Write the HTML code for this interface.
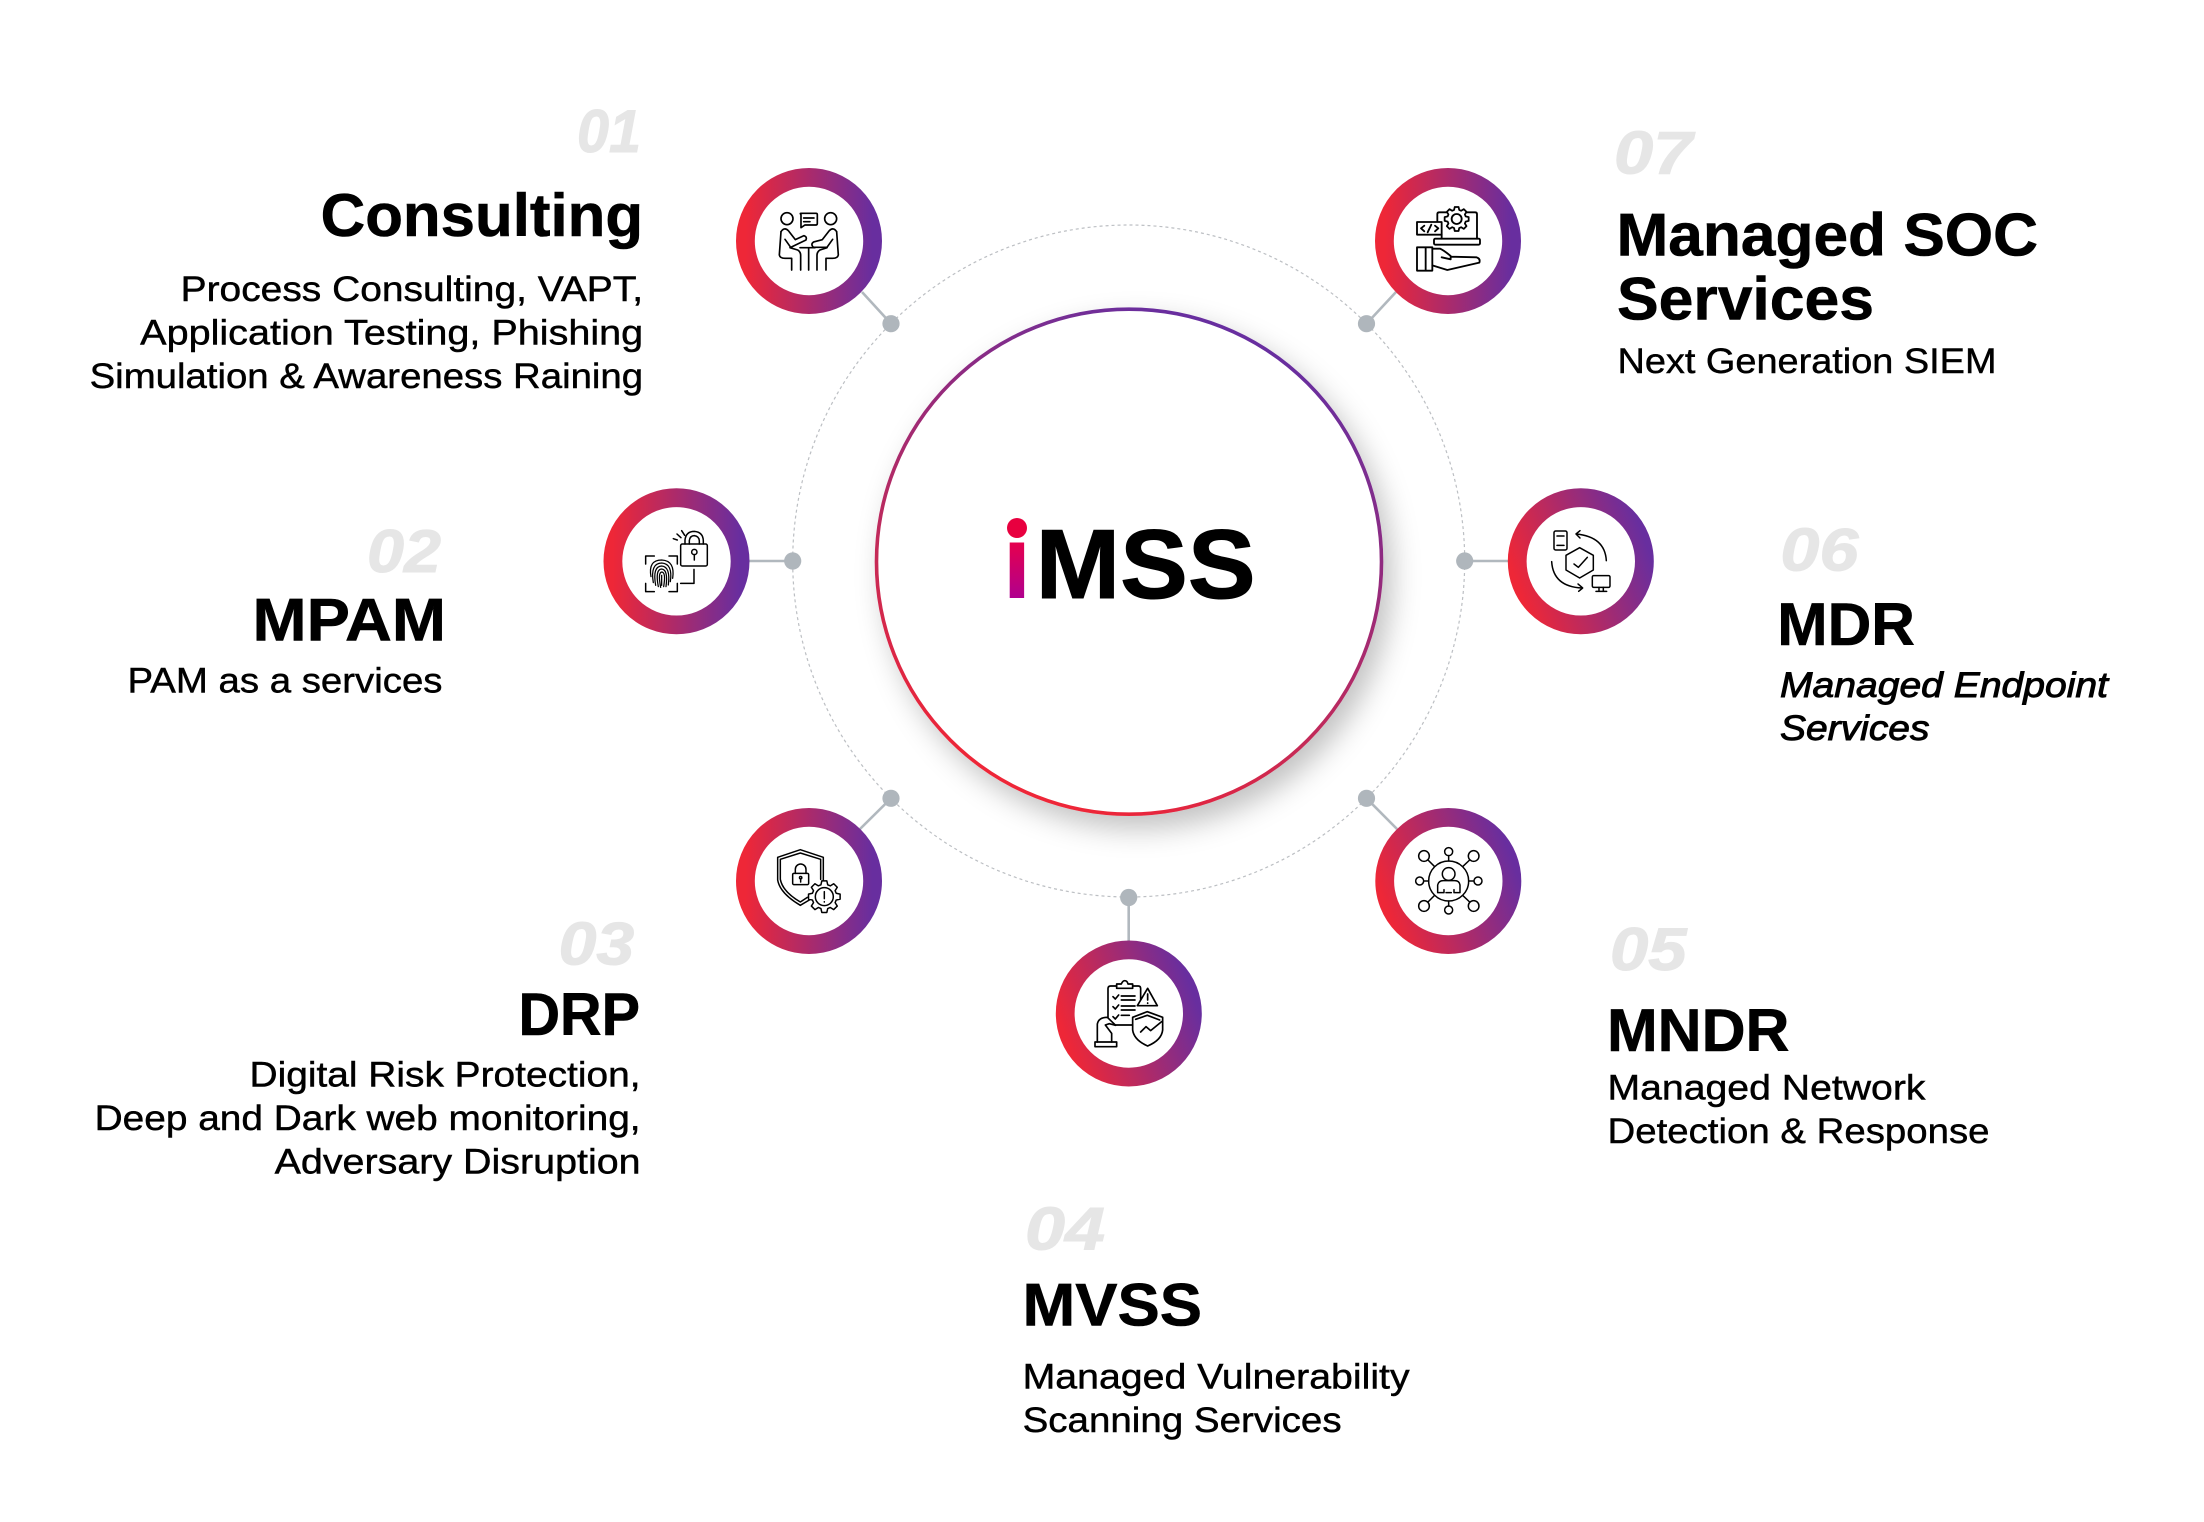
<!DOCTYPE html>
<html lang="en">
<head>
<meta charset="utf-8">
<title>iMSS</title>
<style>
html,body{margin:0;padding:0;background:#fff;width:2204px;height:1522px;overflow:hidden}
svg{display:block}
text{font-family:"Liberation Sans",sans-serif}
.h{font-weight:700;font-size:60px;fill:#000;stroke:#000;stroke-width:.6px}
.d{font-size:35px;fill:#000;stroke:#000;stroke-width:.45px}
.di{font-size:35px;font-style:italic;fill:#000;stroke:#000;stroke-width:.9px}
.n{font-weight:700;font-style:italic;font-size:60px;fill:#e6e6e6;stroke:#e6e6e6;stroke-width:1px}
.ic{fill:none;stroke:#000;stroke-width:4.5;stroke-linecap:round;stroke-linejoin:round}
.ring{fill:#fff;stroke-width:18.8}
.conn{stroke:#b1b8be;stroke-width:2.6}
.dot{fill:#afb6bc}
</style>
</head>
<body>
<svg width="2204" height="1522" viewBox="0 0 2204 1522" xmlns="http://www.w3.org/2000/svg">
<defs>
<linearGradient id="gh" x1="0" y1="0" x2="1" y2="0"><stop offset="0" stop-color="#ee2737"/><stop offset="1" stop-color="#682e9f"/></linearGradient>
<linearGradient id="gr" x1="0" y1=".68" x2="1" y2=".32"><stop offset="0" stop-color="#ee2737"/><stop offset="1" stop-color="#682e9f"/></linearGradient>
<linearGradient id="gc" x1=".3" y1=".95" x2=".7" y2=".05"><stop offset="0" stop-color="#ee2737"/><stop offset="1" stop-color="#682e9f"/></linearGradient>
<linearGradient id="gi" gradientUnits="userSpaceOnUse" x1="1017" y1="544" x2="1017" y2="598"><stop offset="0" stop-color="#e4004f"/><stop offset="1" stop-color="#b0008e"/></linearGradient>
<filter id="sh" x="-20%" y="-20%" width="145%" height="145%"><feDropShadow dx="9" dy="13" stdDeviation="14" flood-color="#000" flood-opacity=".24"/></filter>
<path id="gear" d="M47.4 -7.5L47.4 7.5L35.6 10.2L32.4 17.9L38.8 28.2L28.2 38.8L17.9 32.4L10.2 35.6L7.5 47.4L-7.5 47.4L-10.2 35.6L-17.9 32.4L-28.2 38.8L-38.8 28.2L-32.4 17.9L-35.6 10.2L-47.4 7.5L-47.4 -7.5L-35.6 -10.2L-32.4 -17.9L-38.8 -28.2L-28.2 -38.8L-17.9 -32.4L-10.2 -35.6L-7.5 -47.4L7.5 -47.4L10.2 -35.6L17.9 -32.4L28.2 -38.8L38.8 -28.2L32.4 -17.9L35.6 -10.2Z"/>
</defs>

<!-- dashed orbit -->
<circle cx="1128.7" cy="561" r="336" fill="none" stroke="#bcbfc3" stroke-width="1.2" stroke-dasharray="3 3"/>

<!-- connectors -->
<line class="conn" x1="862" y1="292" x2="891" y2="323.7"/>
<line class="conn" x1="1396" y1="292" x2="1366.5" y2="323.7"/>
<line class="conn" x1="749" y1="561" x2="792.7" y2="561"/>
<line class="conn" x1="1508" y1="561" x2="1464.7" y2="561"/>
<line class="conn" x1="860" y1="829" x2="891" y2="798.3"/>
<line class="conn" x1="1397" y1="829" x2="1366.5" y2="798.3"/>
<line class="conn" x1="1128.7" y1="897" x2="1128.7" y2="941"/>
<circle class="dot" cx="891" cy="323.7" r="8.6"/>
<circle class="dot" cx="1366.5" cy="323.7" r="8.6"/>
<circle class="dot" cx="792.7" cy="561" r="8.6"/>
<circle class="dot" cx="1464.7" cy="561" r="8.6"/>
<circle class="dot" cx="891" cy="798.3" r="8.6"/>
<circle class="dot" cx="1366.5" cy="798.3" r="8.6"/>
<circle class="dot" cx="1128.7" cy="897.5" r="8.6"/>

<!-- centre circle -->
<circle cx="1129" cy="561.7" r="252.5" fill="#fff" stroke="url(#gc)" stroke-width="3.6" filter="url(#sh)"/>
<text x="1002.4" y="598" font-size="105" font-weight="700" fill="url(#gi)">i</text>
<circle cx="1017" cy="528" r="10" fill="#e8003f"/>
<text x="1035.6" y="598" font-size="98" font-weight="700" fill="#000" stroke="#000" stroke-width="1" textLength="220" lengthAdjust="spacingAndGlyphs">MSS</text>

<!-- rings -->
<circle class="ring" cx="809" cy="241" r="63.6" stroke="url(#gh)"/>
<circle class="ring" cx="1448" cy="241" r="63.6" stroke="url(#gh)"/>
<circle class="ring" cx="676.5" cy="561.3" r="63.6" stroke="url(#gh)"/>
<circle class="ring" cx="1580.8" cy="561.3" r="63.6" stroke="url(#gr)"/>
<circle class="ring" cx="809" cy="881" r="63.6" stroke="url(#gh)"/>
<circle class="ring" cx="1448.3" cy="881" r="63.6" stroke="url(#gr)"/>
<circle class="ring" cx="1128.8" cy="1013.5" r="63.6" stroke="url(#gr)"/>

<!-- icon 1 -->
<g class="ic" style="stroke-width:5" transform="translate(700 140) scale(.3333)">
<circle cx="261" cy="236" r="18"/><circle cx="392" cy="236" r="18"/>
<path d="M303 220H348Q352 220 352 224V250Q352 255 347 255H315L303 263V224Q299 220 303 220Z"/>
<path d="M311 234H342M311 245H330"/>
<path d="M243 275Q253 260 265 272L286 299L312 287Q322 290 318 300L272 322L255 298"/>
<path d="M243 275L238 345Q240 355 255 355H275V390"/>
<path d="M270 323L293 330Q302 336 302 346V390"/>
<path d="M410 275Q400 260 388 272L367 299L341 306Q331 312 340 322L381 322L398 298"/>
<path d="M410 275L415 345Q413 355 398 355H378V390"/>
<path d="M381 323L360 330Q351 336 351 346V390"/>
<path d="M326 326V390M300 323H345"/>
</g>

<!-- icon 7 -->
<g class="ic" style="stroke-width:5.5" transform="translate(1360 140) scale(.3333)">
<path d="M232 246V222Q232 217 238 217H345Q351 217 351 222V296"/>
<rect x="171" y="246" width="74" height="38" fill="#fff"/>
<path d="M193 257L183 265L193 274M225 257L235 265L225 274M203 277L214 254"/>
<path d="M245 296V284"/>
<rect x="222" y="296" width="138" height="18" rx="4"/>
<use href="#gear" transform="translate(290 237) scale(.76)" fill="#fff" style="stroke-width:7"/>
<circle cx="290" cy="237" r="15"/>
<path d="M171 322H217V392H171ZM197 322V392"/>
<path d="M217 326H240Q250 330 272 348L272 358L245 352M272 350L350 352Q362 356 358 368L262 390L217 376"/>
</g>

<!-- icon 2 -->
<g class="ic" transform="translate(590 470) scale(.3333)">
<rect x="272" y="222" width="80" height="66" rx="5"/>
<path d="M285 222V210Q288 184 313 184Q339 186 340 212V222"/>
<path d="M298 222V212Q300 197 313 197Q327 199 328 212V222"/>
<circle cx="313" cy="246" r="8"/><path d="M313 254V270"/>
<path d="M273 203L261 192M262 210L250 206M284 196L275 182"/>
<path d="M272 340H312V298"/>
<path d="M167 282V258H193M237 258H262V282M167 340V365H193M237 365H262V340"/>
<g style="stroke-width:3.8">
<path d="M183 320Q174 270 215 270Q256 272 248 325"/>
<path d="M190 338Q180 280 215 279Q249 281 241 335"/>
<path d="M197 346Q187 289 215 288Q242 290 235 345"/>
<path d="M205 350Q195 298 215 297Q235 299 228 350"/>
<path d="M212 352Q203 306 216 306Q228 308 221 350"/>
<path d="M215 316V346"/>
</g>
</g>

<!-- icon 6 -->
<g class="ic" transform="translate(1490 470) scale(.3333)">
<rect x="192" y="183" width="39" height="57" rx="5"/>
<path d="M201 198H222M201 226H222"/>
<path d="M269 233L310 256V300L269 324L228 300V256Z"/>
<path d="M252 282L265 292L292 262"/>
<path d="M349 272Q345 200 258 192M270 182L258 192L270 204"/>
<path d="M185 275Q190 350 276 354M264 342L278 354L266 364"/>
<rect x="307" y="317" width="53" height="35" rx="4"/>
<path d="M327 352V363M340 352V363M318 364H350"/>
</g>

<!-- icon 3 -->
<g class="ic" transform="translate(700 790) scale(.3333)">
<path d="M370 272V202L301 179L233 202V270Q240 310 301 346L328 330"/>
<path d="M362 268V208L301 189L241 208V268Q248 305 301 336L322 322"/>
<rect x="278" y="250" width="48" height="34" rx="4"/>
<path d="M286 250V238A16 16 0 0 1 318 238V250"/>
<circle cx="302" cy="263" r="3.5"/><path d="M302 267V276"/>
<use href="#gear" transform="translate(373 320)" fill="#fff"/>
<circle cx="373" cy="320" r="27"/>
<path d="M373 305V326M373 335V336"/>
</g>

<!-- icon 4 -->
<g class="ic" style="stroke-width:5" transform="translate(1020 910) scale(.3333)">
<path d="M290 228H272Q264 228 264 236V322M338 228H355Q362 228 362 236V268M285 345H340"/>
<path d="M290 235V222H304Q308 212 314 212Q322 212 324 222H338V235Z"/>
<path d="M279 260L286 267L296 255M279 290L286 297L296 285M279 320L286 327L296 315"/>
<path d="M304 258H345M304 270H345M304 288H345M304 300H345M304 316H328"/>
<path d="M383 235L412 287H352Z" fill="#fff"/>
<path d="M383 252V270M383 279V280"/>
<path d="M382 305L428 322V360Q425 390 383 408Q342 390 338 360V322Z" fill="#fff"/>
<path d="M347 328L382 316L419 330"/>
<path d="M362 366L378 350L392 362L425 335"/>
<path d="M232 396V342Q236 322 262 322L287 346L268 341L256 345L275 370V396"/>
<rect x="225" y="396" width="65" height="14"/>
</g>

<!-- icon 5 -->
<g class="ic" transform="translate(1360 790) scale(.3333)">
<circle cx="266" cy="273" r="60"/>
<circle cx="266" cy="252" r="19"/>
<path d="M233 308V285Q236 272 250 272H284Q298 272 300 285V308H282V299M233 308H252V299M258 308H274"/>
<circle cx="266" cy="185" r="12"/><circle cx="266" cy="360" r="12"/>
<circle cx="179" cy="273" r="12"/><circle cx="354" cy="273" r="12"/>
<circle cx="192" cy="198" r="16"/><circle cx="341" cy="198" r="16"/>
<circle cx="192" cy="348" r="16"/><circle cx="341" cy="348" r="16"/>
<path d="M266 197V213M266 333V348M191 273H206M326 273H342M204 210L223 229M329 210L309 229M204 336L223 317M329 336L309 317"/>
</g>

<!-- text: 01 -->
<text class="n" x="577" y="152.2" textLength="64" lengthAdjust="spacingAndGlyphs">01</text>
<text class="h" x="320.6" y="236" textLength="322.5" lengthAdjust="spacingAndGlyphs">Consulting</text>
<text class="d" x="180.6" y="301" textLength="462.5" lengthAdjust="spacingAndGlyphs">Process Consulting, VAPT,</text>
<text class="d" x="140.2" y="344.4" textLength="503" lengthAdjust="spacingAndGlyphs">Application Testing, Phishing</text>
<text class="d" x="89.6" y="388" textLength="553.5" lengthAdjust="spacingAndGlyphs">Simulation &amp; Awareness Raining</text>

<!-- 02 -->
<text class="n" x="367" y="572" textLength="74" lengthAdjust="spacingAndGlyphs">02</text>
<text class="h" x="252.5" y="640.6" textLength="193.5" lengthAdjust="spacingAndGlyphs">MPAM</text>
<text class="d" x="127.5" y="692.7" textLength="315" lengthAdjust="spacingAndGlyphs">PAM as a services</text>

<!-- 03 -->
<text class="n" x="558.6" y="964.4" textLength="75.6" lengthAdjust="spacingAndGlyphs">03</text>
<text class="h" x="518.5" y="1035" textLength="121.5" lengthAdjust="spacingAndGlyphs">DRP</text>
<text class="d" x="249.5" y="1086.6" textLength="391" lengthAdjust="spacingAndGlyphs">Digital Risk Protection,</text>
<text class="d" x="94.6" y="1130" textLength="546" lengthAdjust="spacingAndGlyphs">Deep and Dark web monitoring,</text>
<text class="d" x="274.6" y="1173.7" textLength="366" lengthAdjust="spacingAndGlyphs">Adversary Disruption</text>

<!-- 04 -->
<text class="n" x="1025" y="1249.6" textLength="80" lengthAdjust="spacingAndGlyphs">04</text>
<text class="h" x="1022.5" y="1325.6" textLength="179.5" lengthAdjust="spacingAndGlyphs">MVSS</text>
<text class="d" x="1022.6" y="1388.7" textLength="387" lengthAdjust="spacingAndGlyphs">Managed Vulnerability</text>
<text class="d" x="1022.6" y="1432" textLength="319" lengthAdjust="spacingAndGlyphs">Scanning Services</text>

<!-- 05 -->
<text class="n" x="1610" y="969.8" textLength="76.6" lengthAdjust="spacingAndGlyphs">05</text>
<text class="h" x="1607" y="1051" textLength="182.5" lengthAdjust="spacingAndGlyphs">MNDR</text>
<text class="d" x="1607.5" y="1099.4" textLength="318" lengthAdjust="spacingAndGlyphs">Managed Network</text>
<text class="d" x="1607.5" y="1143" textLength="382" lengthAdjust="spacingAndGlyphs">Detection &amp; Response</text>

<!-- 06 -->
<text class="n" x="1780.4" y="570.4" textLength="78" lengthAdjust="spacingAndGlyphs">06</text>
<text class="h" x="1777.3" y="644.8" textLength="137.6" lengthAdjust="spacingAndGlyphs">MDR</text>
<text class="di" x="1780" y="697" textLength="328" lengthAdjust="spacingAndGlyphs">Managed Endpoint</text>
<text class="di" x="1780" y="740" textLength="149.5" lengthAdjust="spacingAndGlyphs">Services</text>

<!-- 07 -->
<text class="n" x="1614" y="173.4" textLength="78.4" lengthAdjust="spacingAndGlyphs">07</text>
<text class="h" x="1616.5" y="255.6" textLength="421.6" lengthAdjust="spacingAndGlyphs">Managed SOC</text>
<text class="h" x="1617" y="319.6" textLength="257" lengthAdjust="spacingAndGlyphs">Services</text>
<text class="d" x="1617.5" y="373" textLength="379" lengthAdjust="spacingAndGlyphs">Next Generation SIEM</text>
</svg>
</body>
</html>
